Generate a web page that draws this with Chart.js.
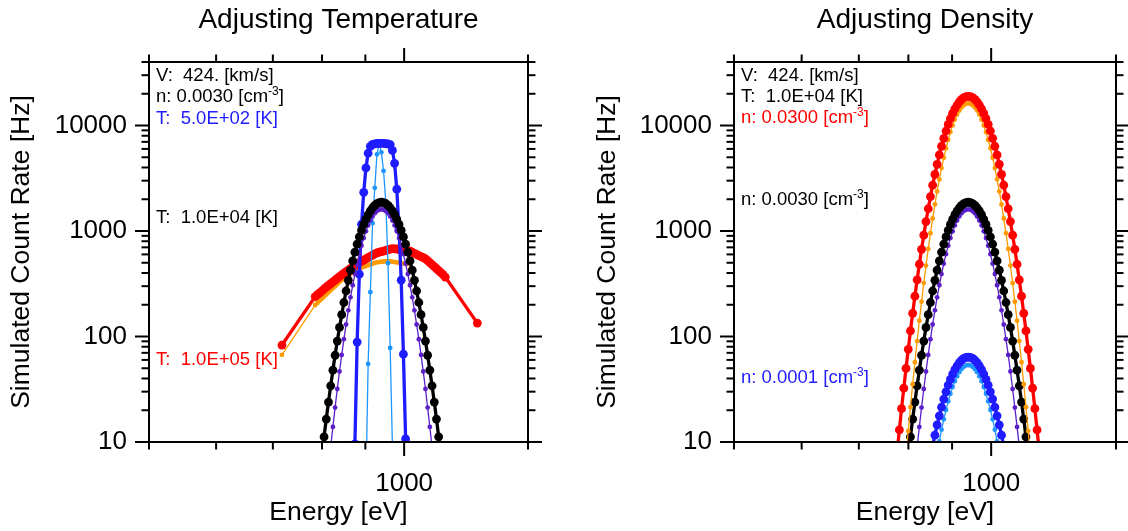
<!DOCTYPE html>
<html>
<head>
<meta charset="utf-8">
<script src="https://cdn.jsdelivr.net/npm/chart.js@4/dist/chart.umd.min.js"></script>
<style>
html, body { margin: 0; padding: 0; background: #ffffff; }
#wrap { position: relative; width: 1128px; height: 531px; overflow: hidden; background: #ffffff; }
canvas { position: absolute; top: 0; }
</style>
</head>
<body>
<div id="wrap">
  <canvas id="c1" width="564" height="531" style="left:0px;width:564px;height:531px"></canvas>
  <canvas id="c2" width="564" height="531" style="left:564px;width:564px;height:531px"></canvas>
</div>
<script>
// ---------------- DATA ----------------
// Shared fine energy grid [eV] (grid index 0..64)
const energyGrid = [776.1, 780.8, 785.4, 790.2, 794.9, 799.7, 804.5, 809.3, 814.2, 819.1,
  824.0, 828.9, 833.9, 838.9, 844.0, 849.0, 854.1, 859.3, 864.4, 869.6,
  874.8, 880.1, 885.4, 890.7, 896.0, 901.4, 906.8, 912.3, 917.8, 923.3,
  928.8, 934.4, 940.0, 945.6, 951.3, 957.0, 962.8, 968.6, 974.4, 980.2,
  986.1, 992.0, 998.0, 1004.0, 1010.0, 1016.1, 1022.2, 1028.3, 1034.5, 1040.7,
  1047.0, 1053.3, 1059.6, 1065.9, 1072.3, 1078.8, 1085.3, 1091.8, 1098.3, 1104.9,
  1111.6, 1118.2, 1125.0, 1131.7, 1138.5];

// Reference plasma: T = 1.0E+04 K, n = 0.0030 cm^-3 (used in both panels)
const blackFrom = 5;
const blackRate = [7.5, 11.2, 16.5, 23.9, 34.1, 47.9, 66.4, 90.6, 122, 161, 210, 270, 341, 425, 521, 630, 750, 879, 1015, 1155, 1293, 1427, 1551, 1661, 1752, 1819, 1861,
  1875,
  1861, 1819, 1752, 1661, 1551, 1427, 1293, 1155, 1015, 879, 750, 630, 521, 425, 341, 270, 210, 161, 122, 90.6, 66.4, 47.9, 34.1, 23.9, 16.5, 11.2, 7.5];
const purpleFrom = 9;
const purpleRate = [8.96, 13.9, 21.2, 31.8, 46.6, 66.9, 94.4, 130, 177, 235, 306, 391, 490, 603, 726, 858, 994, 1129, 1258, 1373, 1471, 1545, 1591,
  1607,
  1591, 1545, 1471, 1373, 1258, 1129, 994, 858, 726, 603, 490, 391, 306, 235, 177, 130, 94.4, 66.9, 46.6, 31.8, 21.2, 13.9, 8.96];

// Adjusting Temperature: T = 5.0E+02 K
const blueTempFrom = 20;
const blueTempRate = [9.6, 88.5, 390, 1159, 2328, 3963, 5458, 6353, 6637, 6700, 6750, 6780, 6780, 6760, 6720, 6680, 6600, 5820, 4385, 2489, 1040, 342, 68, 10.7, 2];
const skyTempFrom = 25;
const skyTempRate = [4, 55, 263, 1186, 2564, 5333, 6823, 5572, 3715, 1914, 496, 78, 9.3];

// Adjusting Temperature: T = 1.0E+05 K
const redTempFrom = 2;
const redTempRate = [239, 249, 259, 270, 282, 293, 305, 317, 329, 342, 356, 369, 384, 397, 412, 426, 441, 455, 470, 487,
  503, 516, 530, 545, 560, 575, 590, 607, 621, 629, 637, 645, 654, 664, 673, 681, 678, 675, 668, 664,
  659, 655, 650, 644, 629, 614, 599, 585, 571, 559, 545, 524, 502, 481, 460, 441, 422, 404, 386, 366];
const redTempOuterEnergy = [717.5, 1220];
const redTempOuterRate = [83, 134];
const orangeTempFrom = 2;
const orangeTempRate = [199, 208, 218, 228, 239, 250, 262, 274, 286, 299, 313, 328, 343, 356, 367, 379, 391, 403, 415, 428,
  442, 449, 457, 465, 473, 482, 489, 498, 505, 508, 511, 514, 518, 521, 516, 512, 508, 504, 500, 497, 492, 489, 485];
const orangeTempOuterEnergy = [717.5];
const orangeTempOuterRate = [67];

// Adjusting Density: n = 0.0300 cm^-3
const redDensFrom = 0;
const redDensRate = [8.1, 13.0, 20.7, 32.4, 49.8, 75.6, 113, 166, 241, 344, 484, 670, 914, 1228, 1626, 2120, 2721, 3442, 4288, 5260, 6357, 7568, 8870, 10240, 11650, 13060, 14410, 15650, 16770, 17680, 18360, 18780,
  18920,
  18780, 18360, 17680, 16770, 15650, 14410, 13060, 11650, 10240, 8870, 7568, 6357, 5260, 4288, 3442, 2721, 2120, 1626, 1228, 914, 670, 484, 344, 241, 166, 113, 75.6, 49.8, 32.4, 20.7, 13.0, 8.1];
const orangeDensFrom = 4;
const orangeDensRate = [7.4, 12.7, 21.4, 35.3, 57.0, 90.5, 141, 214, 321, 470, 676, 953, 1316, 1784, 2371, 3091, 3950, 4949, 6081, 7325, 8657, 10030, 11390, 12690, 13860, 14850, 15600, 16060,
  16220,
  16060, 15600, 14850, 13860, 12690, 11390, 10030, 8657, 7325, 6081, 4949, 3950, 3091, 2371, 1784, 1316, 953, 676, 470, 321, 214, 141, 90.5, 57.0, 35.3, 21.4, 12.7, 7.4];

// Adjusting Density: n = 0.0001 cm^-3
const blueDensFrom = 16;
const blueDensRate = [9.18, 11.6, 14.5, 17.7, 21.4, 25.5, 29.9, 34.6, 39.3, 44.0, 48.6, 52.8, 56.5, 59.6, 61.9, 63.3,
  63.8,
  63.3, 61.9, 59.6, 56.5, 52.8, 48.6, 44.0, 39.3, 34.6, 29.9, 25.5, 21.4, 17.7, 14.5, 11.6, 9.18];
const skyDensFrom = 18;
const skyDensRate = [7.85, 10.2, 13.1, 16.4, 20.1, 24.3, 28.7, 33.2, 37.7, 42.0, 45.9, 49.2, 51.6, 53.2,
  53.7,
  53.2, 51.6, 49.2, 45.9, 42.0, 37.7, 33.2, 28.7, 24.3, 20.1, 16.4, 13.1, 10.2, 7.85];

// Axes
const xRange = [500, 1400];
const yRange = [10, 40000];
const xTickLabels = [1000];
const xMinorTicks = [500, 600, 700, 800, 900, 1400];
const yTickLabels = [10, 100, 1000, 10000];
const yMinorTicks = [20, 30, 40, 50, 60, 70, 80, 90, 200, 300, 400, 500, 600, 700, 800, 900,
  2000, 3000, 4000, 5000, 6000, 7000, 8000, 9000, 20000, 30000, 40000];

// Texts
const titleTemp = 'Adjusting Temperature';
const titleDens = 'Adjusting Density';
const xTitle = 'Energy [eV]';
const yTitle = 'Simulated Count Rate [Hz]';

const COLORS = { blue: '#1f1cff', sky: '#1e96ff', purple: '#5b1fc9', red: '#ff0000', orange: '#ff9a00', black: '#000000' };

const notesTemp = [
  { dy: 19, color: COLORS.black, parts: [['V:  424. [km/s]', false]] },
  { dy: 40, color: COLORS.black, parts: [['n: 0.0030 [cm', false], ['-3', true], [']', false]] },
  { dy: 62, color: COLORS.blue, parts: [['T:  5.0E+02 [K]', false]] },
  { dy: 161, color: COLORS.black, parts: [['T:  1.0E+04 [K]', false]] },
  { dy: 303, color: COLORS.red, parts: [['T:  1.0E+05 [K]', false]] }
];
const notesDens = [
  { dy: 19, color: COLORS.black, parts: [['V:  424. [km/s]', false]] },
  { dy: 40, color: COLORS.black, parts: [['T:  1.0E+04 [K]', false]] },
  { dy: 61, color: COLORS.red, parts: [['n: 0.0300 [cm', false], ['-3', true], [']', false]] },
  { dy: 143, color: COLORS.black, parts: [['n: 0.0030 [cm', false], ['-3', true], [']', false]] },
  { dy: 321, color: COLORS.blue, parts: [['n: 0.0001 [cm', false], ['-3', true], [']', false]] }
];

// ---------------- BUILD ----------------
const FONT = "'Liberation Sans', Arial, Helvetica, sans-serif";

function gridPoints(from, rates) {
  return rates.map((r, k) => ({ x: energyGrid[from + k], y: r }));
}
function withOuter(points, energies, rates) {
  const extra = energies.map((e, k) => ({ x: e, y: rates[k] }));
  return points.concat(extra).sort((a, b) => a.x - b.x);
}
function thick(color, pts) {
  return { data: pts, showLine: true, borderColor: color, backgroundColor: color, borderWidth: 3.3,
    pointRadius: 4.4, pointBorderWidth: 0, pointBackgroundColor: color, tension: 0 };
}
function thin(color, pts) {
  return { data: pts, showLine: true, borderColor: color, backgroundColor: color, borderWidth: 1.3,
    pointRadius: 2.4, pointBorderWidth: 0, pointBackgroundColor: color, tension: 0 };
}

function framePlugin(notes) {
  return {
    id: 'frameAndNotes',
    afterDatasetsDraw(chart) {
      const { ctx, chartArea: a, scales: { x, y } } = chart;
      ctx.save();
      ctx.strokeStyle = '#000';
      ctx.lineWidth = 2;
      ctx.strokeRect(a.left, a.top, a.right - a.left, a.bottom - a.top);
      const seg = (x1, y1, x2, y2) => { ctx.beginPath(); ctx.moveTo(x1, y1); ctx.lineTo(x2, y2); ctx.stroke(); };
      const MAJ = 14, MIN = 7.5;
      xTickLabels.forEach(v => { const p = x.getPixelForValue(v); seg(p, a.bottom, p, a.bottom + MAJ); seg(p, a.top, p, a.top - MAJ); });
      xMinorTicks.forEach(v => { const p = x.getPixelForValue(v); seg(p, a.bottom, p, a.bottom + MIN); seg(p, a.top, p, a.top - MIN); });
      yTickLabels.forEach(v => { const p = y.getPixelForValue(v); seg(a.left, p, a.left - MAJ, p); seg(a.right, p, a.right + MAJ, p); });
      yMinorTicks.forEach(v => { const p = y.getPixelForValue(v); seg(a.left, p, a.left - MIN, p); seg(a.right, p, a.right + MIN, p); });
      // annotations
      ctx.textBaseline = 'alphabetic';
      ctx.textAlign = 'left';
      notes.forEach(n => {
        let cx = a.left + 7;
        const by = a.top + n.dy;
        n.parts.forEach(([t, sup]) => {
          ctx.font = (sup ? '12px ' : '18.5px ') + FONT;
          ctx.fillStyle = n.color;
          ctx.fillText(t, cx, sup ? by - 7 : by);
          cx += ctx.measureText(t).width;
        });
      });
      ctx.restore();
    }
  };
}

function makeChart(canvas, cfg) {
  return new Chart(canvas, {
    type: 'scatter',
    data: { datasets: cfg.datasets },
    options: {
      responsive: false,
      animation: false,
      devicePixelRatio: 1,
      events: [],
      layout: { padding: { left: 0, right: cfg.padRight, top: 0, bottom: 0 } },
      plugins: {
        legend: { display: false },
        tooltip: { enabled: false },
        title: { display: true, text: cfg.title, fullSize: false, color: '#000',
          font: { family: FONT, size: 28, weight: 'normal' }, padding: { top: 3.5, bottom: 24.9 } }
      },
      scales: {
        x: {
          type: 'logarithmic', position: 'bottom', min: xRange[0], max: xRange[1],
          grid: { display: false, drawTicks: false }, border: { display: false },
          afterBuildTicks: s => { s.ticks = xTickLabels.map(v => ({ value: v })); },
          afterFit: s => { s.height = 89; },
          ticks: { padding: 26, autoSkip: false, maxRotation: 0, color: '#000',
            font: { family: FONT, size: 26 }, callback: v => String(v) },
          title: { display: true, text: xTitle, color: '#000', font: { family: FONT, size: 26.5 }, padding: { top: 0, bottom: 2 } }
        },
        y: {
          type: 'logarithmic', position: 'left', min: yRange[0], max: yRange[1],
          grid: { display: false, drawTicks: false }, border: { display: false },
          afterBuildTicks: s => { s.ticks = yTickLabels.map(v => ({ value: v })); },
          afterFit: s => { s.width = cfg.yWidth; },
          ticks: { padding: 22, color: '#000', font: { family: FONT, size: 26 }, callback: v => String(v) },
          title: { display: true, text: yTitle, color: '#000', font: { family: FONT, size: 26.5 }, padding: { top: cfg.yTitlePad, bottom: 0 } }
        }
      }
    },
    plugins: [framePlugin(cfg.notes)]
  });
}

const blackPts = gridPoints(blackFrom, blackRate);
const purplePts = gridPoints(purpleFrom, purpleRate);

makeChart(document.getElementById('c1'), {
  title: titleTemp, padRight: 36, yWidth: 149, yTitlePad: 5.6, notes: notesTemp,
  datasets: [
    thick(COLORS.black, blackPts),
    thin(COLORS.purple, purplePts),
    thick(COLORS.blue, gridPoints(blueTempFrom, blueTempRate)),
    thin(COLORS.sky, gridPoints(skyTempFrom, skyTempRate)),
    thick(COLORS.red, withOuter(gridPoints(redTempFrom, redTempRate), redTempOuterEnergy, redTempOuterRate)),
    thin(COLORS.orange, withOuter(gridPoints(orangeTempFrom, orangeTempRate), orangeTempOuterEnergy, orangeTempOuterRate))
  ]
});

makeChart(document.getElementById('c2'), {
  title: titleDens, padRight: 12, yWidth: 170, yTitlePad: 28, notes: notesDens,
  datasets: [
    thick(COLORS.red, gridPoints(redDensFrom, redDensRate)),
    thin(COLORS.orange, gridPoints(orangeDensFrom, orangeDensRate)),
    thick(COLORS.black, blackPts),
    thin(COLORS.purple, purplePts),
    thick(COLORS.blue, gridPoints(blueDensFrom, blueDensRate)),
    thin(COLORS.sky, gridPoints(skyDensFrom, skyDensRate))
  ]
});
</script>
</body>
</html>
